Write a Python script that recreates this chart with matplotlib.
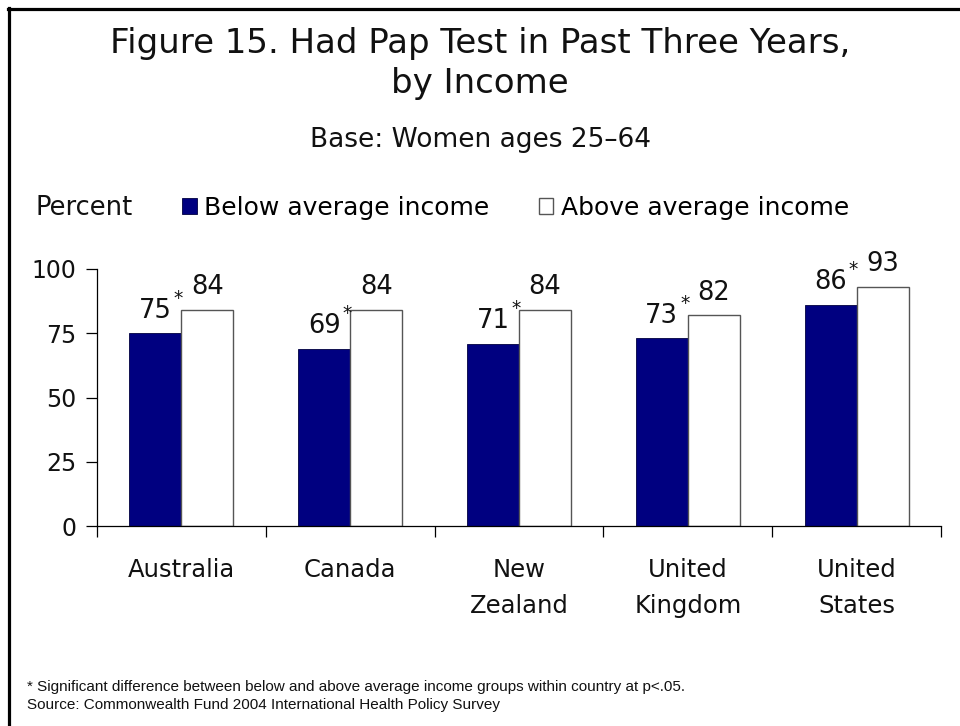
import matplotlib
matplotlib.use("Agg")
import matplotlib.pyplot as plt
from matplotlib.lines import Line2D
import numpy as np

countries = ["Australia", "Canada", "New\nZealand", "United\nKingdom", "United\nStates"]
below_avg = [75, 69, 71, 73, 86]
above_avg = [84, 84, 84, 82, 93]
significant = [True, True, True, True, True]
yticks = [0, 25, 50, 75, 100]

NAVY = "#000080"
W, H = 960, 726

plt.rcParams["font.family"] = ["DejaVu Sans"]

fig = plt.figure(figsize=(W / 100, H / 100), dpi=100)
fig.patch.set_facecolor("white")

def fx(px):
    return px / W

def fy(py):
    return 1 - py / H

# frame lines along the top and left edges
fig.add_artist(Line2D([fx(8), fx(960)], [fy(8.5), fy(8.5)], color="black", lw=2.3,
                      transform=fig.transFigure))
fig.add_artist(Line2D([fx(9), fx(9)], [fy(7.5), fy(726)], color="black", lw=2.3,
                      transform=fig.transFigure))

fig.text(0.5, fy(44), "Figure 15. Had Pap Test in Past Three Years,", ha="center",
         va="center", fontsize=24.5, color="#111111")
fig.text(0.5, fy(83), "by Income", ha="center", va="center", fontsize=24.5,
         color="#111111")
fig.text(0.5, fy(140), "Base: Women ages 25\u201364", ha="center", va="center",
         fontsize=19, color="#111111")

ax = fig.add_axes([fx(97), fy(526), fx(941) - fx(97), fy(269) - fy(526)])
x = np.arange(len(countries))
bw = 0.308
b1 = ax.bar(x - bw / 2, below_avg, bw, color=NAVY, edgecolor="#000040", lw=0.6,
            label="Below average income")
b2 = ax.bar(x + bw / 2, above_avg, bw, color="white", edgecolor="#555555", lw=1.0,
            label="Above average income")

for i in range(len(countries)):
    ax.annotate(f"{below_avg[i]}", (x[i] - bw / 2, below_avg[i]), xytext=(0, 7),
                textcoords="offset points", ha="center", va="bottom", fontsize=18.5,
                color="#111111", annotation_clip=False)
    ax.annotate(f"{above_avg[i]}", (x[i] + bw / 2, above_avg[i]), xytext=(0, 7),
                textcoords="offset points", ha="center", va="bottom", fontsize=18.5,
                color="#111111", annotation_clip=False)
    if significant[i]:
        ax.annotate("*", (x[i] - bw / 2, below_avg[i]), xytext=(16.5, 18.5),
                    textcoords="offset points", ha="center", va="bottom",
                    fontsize=13.5, color="#111111", annotation_clip=False)

ax.set_xlim(-0.5, len(countries) - 0.5)
ax.set_ylim(0, 100)
ax.set_yticks(yticks)
ax.set_yticklabels([str(v) for v in yticks], fontsize=17, color="#111111")
ax.set_xticks(x)
ax.set_xticklabels(countries, fontsize=17.5, color="#111111", linespacing=1.65,
                   va="top")
ax.set_xticks(np.arange(-0.5, len(countries)), minor=True)
ax.tick_params(axis="x", which="major", length=0, pad=23)
ax.tick_params(axis="x", which="minor", length=8, width=0.9, direction="out")
ax.tick_params(axis="y", length=8, width=0.9, direction="out", pad=7)
for s in ("top", "right"):
    ax.spines[s].set_visible(False)
for s in ("left", "bottom"):
    ax.spines[s].set_linewidth(0.9)

fig.text(fx(35), fy(208), "Percent", ha="left", va="center", fontsize=18.5,
         color="#111111")
fig.legend(handles=[b1, b2], loc="center left",
           bbox_to_anchor=(fx(182), fy(208)), ncol=2, frameon=False,
           fontsize=18, handlelength=0.58, handleheight=0.58,
           handletextpad=0.32, columnspacing=1.95, borderpad=0, borderaxespad=0)

fig.text(fx(27), fy(687), "* Significant difference between below and above average "
         "income groups within country at p<.05.", ha="left", va="center",
         fontsize=11, family="Liberation Sans", color="#111111")
fig.text(fx(27), fy(705), "Source: Commonwealth Fund 2004 International Health "
         "Policy Survey", ha="left", va="center", fontsize=11,
         family="Liberation Sans", color="#111111")

fig.savefig("out.png", dpi=100)
